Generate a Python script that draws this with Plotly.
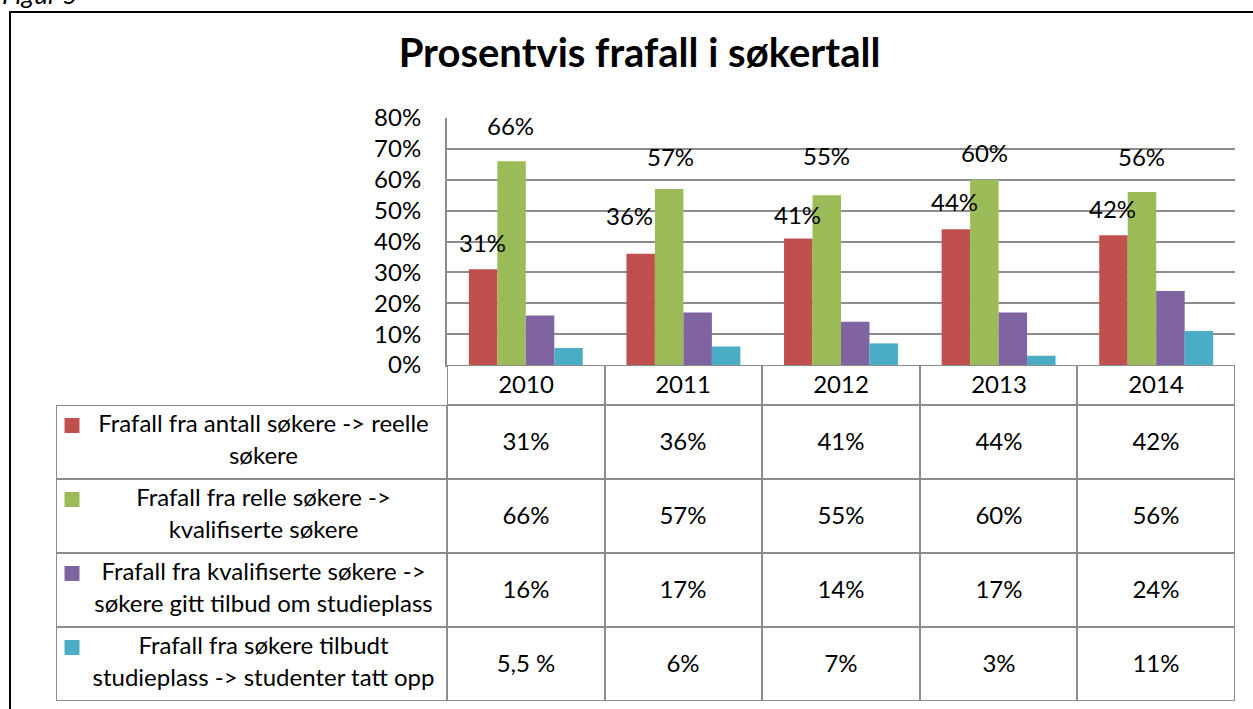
import plotly.graph_objects as go

# data
years = ["2010", "2011", "2012", "2013", "2014"]
series_names = [
    "Frafall fra antall søkere -> reelle<br>søkere",
    "Frafall fra relle søkere -><br>kvalifiserte søkere",
    "Frafall fra kvalifiserte søkere -><br>søkere gitt tilbud om studieplass",
    "Frafall fra søkere tilbudt<br>studieplass -> studenter tatt opp",
]
frafall_reelle = [31, 36, 41, 44, 42]
frafall_kvalifiserte = [66, 57, 55, 60, 56]
frafall_tilbud = [16, 17, 14, 17, 24]
frafall_opptak = [5.5, 6, 7, 3, 11]
series_values = [frafall_reelle, frafall_kvalifiserte, frafall_tilbud, frafall_opptak]

# styling
colors = ["#C0504D", "#9BBB59", "#8064A2", "#4BACC6"]
FONT = "Lato"
GRID = "#8c8c8c"
FS = 24

# manual nudges of the excel data labels (px) for the two labelled series
label_dy = {0: [27, 38, 24, 28, 27], 1: [36, 33, 40, 27, 36]}
label_dx = {0: [-1, -11, -1, -1, -1], 1: [-1, 1, 0, 0, 0]}

# page geometry (pixels)
W, H = 1253, 709
L, R, T, B = 56, 1235, 118, 701
PLOT_L = 447
AXIS_Y = 365
ROW_H = 74
HEAD_H = 40
BARGAP = 0.277

pw, ph = R - L, B - T


def fmt(v):
    if float(v).is_integer():
        return f"{int(v)}%"
    return f"{v:.1f}".replace(".", ",") + " %"


fig = go.Figure()

# bars
for name, vals, col in zip(series_names, series_values, colors):
    fig.add_trace(go.Bar(
        x=years, y=[v / 100 for v in vals], name=name.replace("<br>", " "),
        marker=dict(color=col, line=dict(width=0)),
        xaxis="x", yaxis="y", showlegend=False, hoverinfo="skip",
    ))

# data labels for the first two series (x = category index on the category axis)
cat_w = (R - PLOT_L) / len(years)
bar_w = cat_w * (1 - BARGAP) / len(series_values)
annotations = []
for k in (0, 1):
    off = (k - (len(series_values) - 1) / 2) * bar_w
    for j, v in enumerate(series_values[k]):
        annotations.append(dict(
            x=j, y=v / 100, xref="x", yref="y", text=fmt(v), showarrow=False,
            xshift=off + label_dx[k][j], yshift=label_dy[k][j], yanchor="middle",
            font=dict(family=FONT, size=FS, color="black"),
        ))

# data table drawn as a heatmap of bricks
label_w = PLOT_L - L
col_edges = [0, label_w] + [label_w + cat_w * (i + 1) for i in range(len(years))]
n_rows = len(series_values)
row_edges = [ROW_H * i for i in range(n_rows + 1)] + [ROW_H * n_rows + HEAD_H]

z, txt = [], []
for r in range(n_rows):
    k = n_rows - 1 - r
    z.append([1] * (len(years) + 1))
    txt.append([""] + [fmt(v) for v in series_values[k]])
z.append([None] + [1] * len(years))
txt.append([""] + years)

fig.add_trace(go.Heatmap(
    x=col_edges, y=row_edges, z=z, colorscale=[[0, GRID], [1, GRID]],
    showscale=False, hoverinfo="skip", xaxis="x2", yaxis="y2",
))
fig.add_trace(go.Heatmap(
    x=col_edges, y=row_edges, z=z, text=txt, texttemplate="%{text}",
    textfont=dict(family=FONT, size=FS, color="black"),
    colorscale=[[0, "white"], [1, "white"]], xgap=2, ygap=2,
    showscale=False, hoverinfo="skip", xaxis="x2", yaxis="y2",
))

# legend keys and series labels in the first column
row_tops = [ROW_H * (n_rows - k) for k in range(n_rows)]
fig.add_trace(go.Scatter(
    x=[16] * n_rows, y=[t - 20.5 for t in row_tops], mode="markers",
    marker=dict(symbol="square", size=15, color=colors, line=dict(width=0)),
    xaxis="x2", yaxis="y2", showlegend=False, hoverinfo="skip",
))
fig.add_trace(go.Scatter(
    x=[(24 + label_w) / 2] * n_rows, y=[t - ROW_H / 2 for t in row_tops],
    mode="text", text=series_names, textposition="middle center",
    textfont=dict(family=FONT, size=FS, color="black"),
    xaxis="x2", yaxis="y2", showlegend=False, hoverinfo="skip",
))


def px_x(x):
    return (x - L) / pw


def px_y(y):
    return (B - y) / ph


annotations.append(dict(
    x=px_x(0), y=px_y(12), xref="paper", yref="paper", xanchor="left", yanchor="bottom",
    text="<i>Figur 5</i>", showarrow=False, font=dict(family=FONT, size=26, color="black"),
))

fig.update_layout(
    width=W, height=H,
    margin=dict(l=L, r=W - R, t=T, b=H - B, pad=0, autoexpand=False),
    paper_bgcolor="white", plot_bgcolor="white",
    barmode="group", bargap=BARGAP, bargroupgap=0,
    title=dict(
        text="Prosentvis frafall i søkertall", x=639.5 / W, xanchor="center",
        y=1 - 53 / H, yanchor="middle", yref="container",
        font=dict(family=FONT, size=40, color="black", weight=700),
    ),
    xaxis=dict(
        type="category", domain=[px_x(PLOT_L), 1], anchor="y", range=[-0.5, len(years) - 0.5],
        autorange=False, showticklabels=False, ticks="", showgrid=False,
        showline=True, linecolor=GRID, linewidth=2, fixedrange=True,
    ),
    yaxis=dict(
        domain=[px_y(AXIS_Y), 1], anchor="x", range=[0, 0.8], autorange=False, dtick=0.1,
        tickformat=".0%", showgrid=True, gridcolor=GRID, gridwidth=1.5,
        showline=True, linecolor=GRID, linewidth=2, zeroline=False, ticks="",
        ticklabelstandoff=19, tickfont=dict(family=FONT, size=FS, color="black"),
        fixedrange=True,
    ),
    xaxis2=dict(
        domain=[0, 1], anchor="y2", range=[0, pw], visible=False, fixedrange=True,
    ),
    yaxis2=dict(
        domain=[0, px_y(AXIS_Y)], anchor="x2", range=[0, row_edges[-1]],
        visible=False, fixedrange=True,
    ),
    annotations=annotations,
    shapes=[dict(
        type="rect", xref="paper", yref="paper",
        x0=px_x(10), x1=px_x(W + 10), y0=px_y(H + 10), y1=px_y(12),
        line=dict(color="black", width=2), fillcolor="rgba(0,0,0,0)", layer="above",
    )],
)

fig.write_html("out.html", config={"displayModeBar": False},
               post_script="document.body.style.margin='0';")
